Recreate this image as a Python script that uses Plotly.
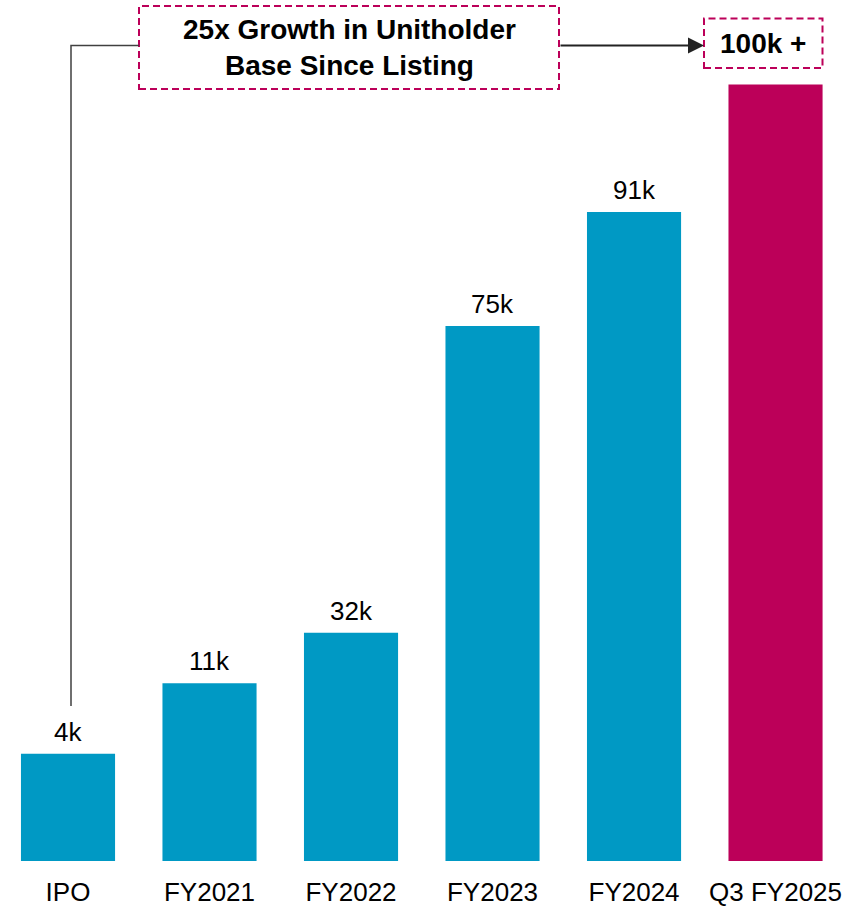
import plotly.graph_objects as go

categories = ["IPO", "FY2021", "FY2022", "FY2023", "FY2024", "Q3 FY2025"]
# bar heights as drawn in the picture (relative scale, Q3 FY2025 = 100)
bar_heights = [13.8, 22.9, 29.4, 68.9, 83.6, 100.0]
value_labels = ["4k", "11k", "32k", "75k", "91k", ""]
bar_colors = ["#0099C4", "#0099C4", "#0099C4", "#0099C4", "#0099C4", "#BC0059"]

W, H = 861, 906
MB = 45
PH = H - MB  # plot height in px
FONT = "Liberation Sans, Arial"


def px(x):
    return x / W


def py(y):
    return 1 - y / PH


fig = go.Figure()
fig.add_trace(go.Bar(
    x=categories, y=bar_heights,
    marker=dict(color=bar_colors, line=dict(width=0)),
    width=0.665,
    hoverinfo="skip",
))

for c, h, t in zip(categories, bar_heights, value_labels):
    if t:
        fig.add_annotation(x=c, y=h, text=t, showarrow=False, yanchor="bottom",
                           yshift=5, font=dict(size=26, color="#000000", family=FONT))

shapes = []
DASH_COL = "#BC0059"
# title box
shapes.append(dict(type="rect", xref="paper", yref="paper",
                   x0=px(139), x1=px(559), y0=py(89), y1=py(6),
                   line=dict(color=DASH_COL, width=2, dash="7px,4px"),
                   fillcolor="rgba(0,0,0,0)"))
# 100k box
shapes.append(dict(type="rect", xref="paper", yref="paper",
                   x0=px(704), x1=px(822.5), y0=py(68), y1=py(18.5),
                   line=dict(color=DASH_COL, width=2, dash="7px,4px"),
                   fillcolor="rgba(0,0,0,0)"))
# connector line from IPO
shapes.append(dict(type="path", xref="paper", yref="paper",
                   path=f"M {px(71)} {py(706)} L {px(71)} {py(45.5)} L {px(139)} {py(45.5)}",
                   line=dict(color="#404040", width=1.5)))
fig.update_layout(shapes=shapes)

fig.add_annotation(xref="paper", yref="paper", x=px(704), y=py(45.5),
                   ax=-(704 - 559), ay=0, axref="pixel", ayref="pixel",
                   text="", showarrow=True, arrowhead=2, arrowsize=1.6,
                   arrowwidth=2, arrowcolor="#222222", standoff=0)

fig.add_annotation(xref="paper", yref="paper", x=px(349), y=py(48),
                   text="<b>25x Growth in Unitholder<br>Base Since Listing</b>",
                   showarrow=False, xanchor="center", yanchor="middle",
                   font=dict(size=28, color="#000000", family=FONT))
fig.add_annotation(xref="paper", yref="paper", x=px(763.4), y=py(43.5),
                   text="<b>100k +</b>",
                   showarrow=False, xanchor="center", yanchor="middle",
                   font=dict(size=28, color="#000000", family=FONT))

fig.update_layout(
    width=W, height=H,
    margin=dict(l=0, r=0, t=0, b=MB),
    paper_bgcolor="white", plot_bgcolor="white",
    showlegend=False,
    xaxis=dict(range=[-0.4806, 5.604], showgrid=False, zeroline=False,
               showline=False, ticks="", fixedrange=True, ticklabelstandoff=13,
               tickfont=dict(size=26, color="#000000", family=FONT)),
    yaxis=dict(range=[0, 110.9], visible=False, fixedrange=True),
    font=dict(family=FONT),
)

fig.write_html("out.html", config={"displayModeBar": False})
